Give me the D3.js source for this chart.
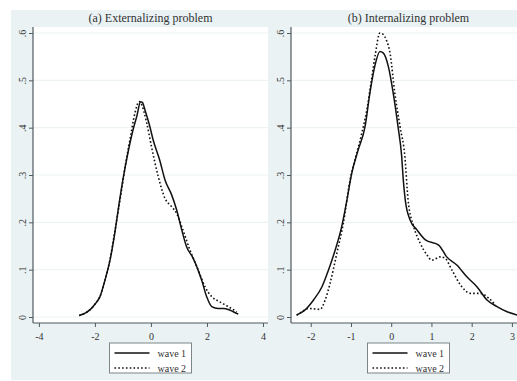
<!DOCTYPE html>
<html>
<head>
<meta charset="utf-8">
<script src="https://cdn.jsdelivr.net/npm/d3@7"></script>
<style>
  html, body { margin: 0; padding: 0; background: #ffffff; }
  svg { display: block; }
  text { font-family: "Liberation Serif", "DejaVu Serif", serif; }
</style>
</head>
<body>
<script>
// ---------------- DATA ----------------
const panelTitles = ["(a) Externalizing problem", "(b) Internalizing problem"];
const seriesNames = ["wave 1", "wave 2"];
const yTicks = [0, 0.1, 0.2, 0.3, 0.4, 0.5, 0.6];
const yTickLabels = ["0", ".1", ".2", ".3", ".4", ".5", ".6"];
const extXTicks = [-4, -2, 0, 2, 4];
const intXTicks = [-2, -1, 0, 1, 2, 3];

// (a) Externalizing problem — kernel density, [score, density]
const extWave1 = [
  [-2.56, 0.003], [-2.35, 0.008], [-2.18, 0.015], [-2.0, 0.027], [-1.82, 0.043],
  [-1.64, 0.078], [-1.46, 0.120], [-1.29, 0.177], [-1.17, 0.226], [-1.0, 0.290],
  [-0.82, 0.347], [-0.64, 0.395], [-0.50, 0.425], [-0.37, 0.455], [-0.30, 0.453],
  [-0.21, 0.437], [-0.05, 0.405], [0.08, 0.374], [0.32, 0.330], [0.50, 0.290],
  [0.74, 0.258], [0.92, 0.226], [1.10, 0.184], [1.27, 0.149], [1.51, 0.124],
  [1.81, 0.078], [1.99, 0.043], [2.17, 0.022], [2.40, 0.018], [2.60, 0.018],
  [2.76, 0.016], [2.94, 0.011], [3.12, 0.006]
];
const extWave2 = [
  [-2.56, 0.003], [-2.35, 0.008], [-2.18, 0.015], [-2.0, 0.027], [-1.82, 0.043],
  [-1.64, 0.078], [-1.46, 0.122], [-1.29, 0.180], [-1.05, 0.268], [-0.90, 0.325],
  [-0.75, 0.374], [-0.57, 0.431], [-0.42, 0.455], [-0.36, 0.452], [-0.15, 0.410],
  [0.02, 0.360], [0.26, 0.297], [0.50, 0.251], [0.74, 0.233], [0.92, 0.219],
  [1.10, 0.191], [1.39, 0.142], [1.69, 0.099], [1.93, 0.064], [2.17, 0.043],
  [2.46, 0.032], [2.76, 0.022], [3.06, 0.011]
];

// (b) Internalizing problem — kernel density, [score, density]
const intWave1 = [
  [-2.35, 0.004], [-2.14, 0.015], [-1.93, 0.036], [-1.72, 0.064], [-1.56, 0.099],
  [-1.39, 0.142], [-1.23, 0.191], [-1.10, 0.247], [-0.99, 0.300], [-0.82, 0.353],
  [-0.65, 0.402], [-0.53, 0.473], [-0.41, 0.529], [-0.28, 0.561], [-0.20, 0.558],
  [-0.07, 0.529], [0.05, 0.473], [0.17, 0.402], [0.26, 0.340], [0.30, 0.290],
  [0.35, 0.247], [0.47, 0.205], [0.64, 0.184], [0.85, 0.163], [1.18, 0.152],
  [1.38, 0.127], [1.63, 0.110], [1.88, 0.085], [2.13, 0.064], [2.38, 0.036],
  [2.63, 0.022], [2.88, 0.011], [3.13, 0.004]
];
const intWave2 = [
  [-2.35, 0.004], [-2.20, 0.012], [-2.06, 0.018], [-1.90, 0.017], [-1.77, 0.016],
  [-1.64, 0.036], [-1.52, 0.071], [-1.35, 0.135], [-1.19, 0.198], [-1.02, 0.290],
  [-0.90, 0.332], [-0.74, 0.385], [-0.60, 0.440], [-0.49, 0.501], [-0.40, 0.552],
  [-0.28, 0.600], [-0.20, 0.597], [-0.12, 0.585], [-0.03, 0.558], [0.09, 0.473],
  [0.22, 0.402], [0.34, 0.339], [0.42, 0.247], [0.56, 0.191], [0.72, 0.156],
  [0.89, 0.131], [1.01, 0.120], [1.22, 0.127], [1.34, 0.124], [1.51, 0.099],
  [1.72, 0.068], [1.97, 0.050], [2.21, 0.050], [2.42, 0.040], [2.59, 0.025]
];

// ---------------- LAYOUT ----------------
const W = 517, H = 381;
const bg = "#eaf2f3";
const svg = d3.select("body").append("svg").attr("width", W).attr("height", H);

svg.append("rect").attr("x", 0).attr("y", 0).attr("width", W).attr("height", H).attr("fill", "#ffffff");
svg.append("rect").attr("x", 11).attr("y", 10).attr("width", W - 11).attr("height", H - 11).attr("fill", bg);

const plotTop = 27, plotBottom = 323;
const y = d3.scaleLinear().domain([0, 0.6]).range([317, 33]);

const panels = [
  { title: panelTitles[0], left: 33, right: 268, domain: [-4.21, 4.18], ticks: extXTicks, w1: extWave1, w2: extWave2 },
  { title: panelTitles[1], left: 291, right: 526, domain: [-2.49, 3.35], ticks: intXTicks, w1: intWave1, w2: intWave2 }
];

const axisColor = "#4f5a5e";
const textColor = "#333333";

panels.forEach(p => {
  const x = d3.scaleLinear().domain(p.domain).range([p.left, p.right]);
  const g = svg.append("g");
  const cx = (p.left + p.right) / 2;

  // plot region
  g.append("rect").attr("x", p.left).attr("y", plotTop)
    .attr("width", p.right - p.left).attr("height", plotBottom - plotTop).attr("fill", "#ffffff");

  // gridlines
  g.selectAll(".grid").data(yTicks).enter().append("line")
    .attr("x1", p.left).attr("x2", p.right)
    .attr("y1", d => y(d)).attr("y2", d => y(d))
    .attr("stroke", "#eef3f4").attr("stroke-width", 1.2);

  // title
  g.append("text").attr("x", cx).attr("y", 22).attr("text-anchor", "middle")
    .attr("font-size", 12).attr("fill", textColor).text(p.title);

  // y axis
  const ya = g.append("g").attr("transform", `translate(${p.left},0)`)
    .call(d3.axisLeft(y).tickValues(yTicks).tickFormat((d, i) => yTickLabels[i]).tickSize(4).tickSizeOuter(0));
  ya.select(".domain").attr("stroke", axisColor).attr("stroke-width", 1.2)
    .attr("d", `M0,${plotTop}V${plotBottom}`);
  ya.selectAll(".tick line").attr("stroke", axisColor);
  ya.selectAll(".tick text")
    .attr("transform", "rotate(-90)")
    .attr("x", 0).attr("y", -11).attr("dy", "0.35em")
    .attr("text-anchor", "middle")
    .attr("font-size", 10).attr("fill", textColor)
    .style("font-family", '"Liberation Serif", serif');

  // x axis
  const xa = g.append("g").attr("transform", `translate(0,${plotBottom})`)
    .call(d3.axisBottom(x).tickValues(p.ticks).tickFormat(d => d < 0 ? "-" + Math.abs(d) : String(d)).tickSize(4).tickPadding(6).tickSizeOuter(0));
  xa.select(".domain").attr("stroke", axisColor).attr("stroke-width", 1.2)
    .attr("d", `M${p.left},0H${p.right}`);
  xa.selectAll(".tick line").attr("stroke", axisColor);
  xa.selectAll(".tick text").attr("font-size", 10).attr("fill", textColor)
    .style("font-family", '"Liberation Serif", serif');

  // lines
  const line = d3.line().x(d => x(d[0])).y(d => y(d[1])).curve(d3.curveMonotoneX);
  g.append("path").datum(p.w1).attr("d", line)
    .attr("fill", "none").attr("stroke", "#111111").attr("stroke-width", 1.5);
  g.append("path").datum(p.w2).attr("d", line)
    .attr("fill", "none").attr("stroke", "#111111").attr("stroke-width", 1.6)
    .attr("stroke-dasharray", "1.6,2.2");

  // legend
  const lg = g.append("g");
  lg.append("rect").attr("x", cx - 41).attr("y", 343).attr("width", 82).attr("height", 30)
    .attr("fill", "#ffffff").attr("stroke", "#7d8588").attr("stroke-width", 1);
  const rows = [{ name: seriesNames[0], dash: null, yy: 353 }, { name: seriesNames[1], dash: "1.6,2.2", yy: 368 }];
  rows.forEach(r => {
    const l = lg.append("line").attr("x1", cx - 36).attr("x2", cx - 1)
      .attr("y1", r.yy).attr("y2", r.yy).attr("stroke", "#111111").attr("stroke-width", 1.5);
    if (r.dash) l.attr("stroke-dasharray", r.dash);
    lg.append("text").attr("x", cx + 7).attr("y", r.yy).attr("dy", "0.35em")
      .attr("font-size", 10).attr("fill", textColor).text(r.name);
  });
});
</script>
</body>
</html>
